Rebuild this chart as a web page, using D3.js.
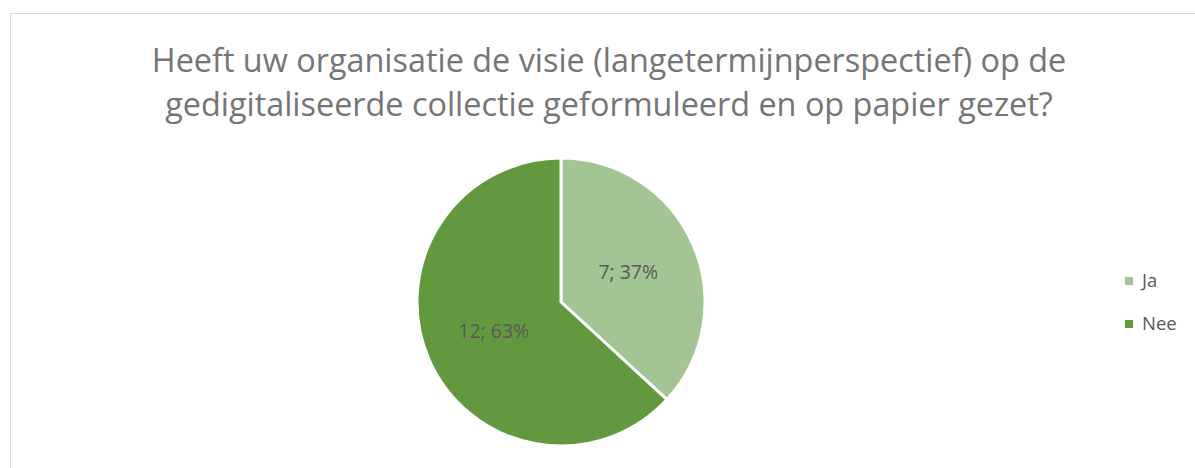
<!DOCTYPE html>
<html><head><meta charset="utf-8">
<script src="https://cdn.jsdelivr.net/npm/d3@7"></script>
<style>body{margin:0;background:#fff;}svg{display:block;}</style>
</head><body>
<svg id="c" width="1195" height="468"></svg>
<script>
const categories = ["Ja", "Nee"];
const values = [7, 12];
const colors = ["#A3C593", "#62993E"];
const titleLines = ["Heeft uw organisatie de visie (langetermijnperspectief) op de", "gedigitaliseerde collectie geformuleerd en op papier gezet?"];

const svg = d3.select("#c");
const font = "Open Sans, Noto Sans, sans-serif";
svg.append("rect").attr("x", 10.5).attr("y", 13.5).attr("width", 1200).attr("height", 470)
  .attr("fill", "#fff").attr("stroke", "#d9d9d9").attr("stroke-width", 1);

// title
const tl = svg.append("g");
const t1 = tl.append("text").attr("x", 609).attr("y", 72).attr("text-anchor", "middle")
  .attr("font-family", font).attr("font-size", 28).attr("fill", "#757575").text(titleLines[0]);
const w = t1.node().getComputedTextLength();
const fs = 28 * 915 / w;
t1.attr("font-size", fs);
tl.append("text").attr("x", 609).attr("y", 116).attr("text-anchor", "middle")
  .attr("font-family", font).attr("font-size", fs).attr("fill", "#757575").text(titleLines[1]);

// pie
const cx = 561, cy = 302, r = 144;
const total = d3.sum(values);
const pie = d3.pie().sort(null).value(d => d)(values);
const arc = d3.arc().innerRadius(0).outerRadius(r);
const g = svg.append("g").attr("transform", `translate(${cx},${cy})`);
g.selectAll("path").data(pie).join("path").attr("d", arc)
  .attr("fill", (d, i) => colors[i]).attr("stroke", "#fff").attr("stroke-width", 3).attr("stroke-linejoin", "round");
const labelArc = d3.arc().innerRadius(r * 0.51).outerRadius(r * 0.51);
g.selectAll("text").data(pie).join("text")
  .attr("transform", d => `translate(${labelArc.centroid(d)})`)
  .attr("text-anchor", "middle").attr("dy", "0.35em")
  .attr("font-family", font).attr("font-size", 19.5).attr("fill", "#595959")
  .text(d => `${d.data}; ${Math.round(d.data / total * 100)}%`);

// legend
const leg = svg.append("g");
categories.forEach((c, i) => {
  const y = 281 + i * 43;
  leg.append("rect").attr("x", 1125).attr("y", y - 4).attr("width", 8).attr("height", 8).attr("fill", colors[i]);
  leg.append("text").attr("x", 1142).attr("y", y).attr("dy", "0.35em")
    .attr("font-family", font).attr("font-size", 18.5).attr("fill", "#595959").text(c);
});
</script>
</body></html>
